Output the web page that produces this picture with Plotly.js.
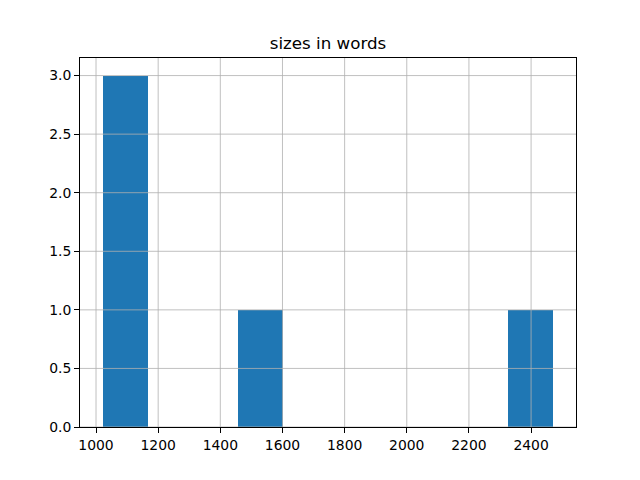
<!DOCTYPE html>
<html>
<head>
<meta charset="utf-8">
<script src="https://cdn.plot.ly/plotly-3.0.1.min.js"></script>
<style>html,body{margin:0;padding:0;background:#fff;}#chart{width:640px;height:480px;}</style>
</head>
<body>
<div id="chart"></div>
<script>
// Histogram of document sizes (words), 10 bins
const binEdges = [1021, 1166.1, 1311.2, 1456.3, 1601.4, 1746.5, 1891.6, 2036.7, 2181.8, 2326.9, 2472];
const counts = [3, 0, 0, 1, 0, 0, 0, 0, 0, 1];
const xTicks = [1000, 1200, 1400, 1600, 1800, 2000, 2200, 2400];
const yTicks = [0, 0.5, 1, 1.5, 2, 2.5, 3];
const yTickLabels = ["0.0", "0.5", "1.0", "1.5", "2.0", "2.5", "3.0"];
const chartTitle = "sizes in words";

const centers = counts.map((c, i) => (binEdges[i] + binEdges[i + 1]) / 2);
const widths = counts.map((c, i) => binEdges[i + 1] - binEdges[i]);

const lo = binEdges[0], hi = binEdges[binEdges.length - 1];
const pad = (hi - lo) * 0.05;
const ymax = Math.max(...counts) * 1.05;

const gridShapes = [];
xTicks.forEach(v => gridShapes.push({type: 'line', xref: 'x', yref: 'paper', x0: v, x1: v, y0: 0, y1: 1,
  line: {color: '#b0b0b0', width: 0.8}, layer: 'above'}));
yTicks.forEach(v => gridShapes.push({type: 'line', xref: 'paper', yref: 'y', x0: 0, x1: 1, y0: v, y1: v,
  line: {color: '#b0b0b0', width: 0.8}, layer: 'above'}));

const font = {family: 'DejaVu Sans', size: 13.9, color: '#000'};

Plotly.newPlot('chart', [{
  type: 'bar', x: centers, y: counts, width: widths,
  marker: {color: '#1f77b4', line: {width: 0}}, hoverinfo: 'skip'
}], {
  width: 640, height: 480,
  margin: {l: 80, r: 64, t: 58, b: 53, pad: 0},
  paper_bgcolor: '#fff', plot_bgcolor: '#fff',
  showlegend: false,
  title: {text: chartTitle, font: {family: 'DejaVu Sans', size: 16.7, color: '#000'},
    x: 0.5, xref: 'paper', xanchor: 'center', y: 1 - 43 / 480, yref: 'container', yanchor: 'middle'},
  xaxis: {range: [lo - pad, hi + pad], tickvals: xTicks, ticktext: xTicks.map(String),
    showgrid: false, zeroline: false, showline: true, mirror: true, linecolor: '#000', linewidth: 1,
    ticks: 'outside', ticklen: 5, tickwidth: 1, tickcolor: '#000', tickfont: font, layer: 'above traces'},
  yaxis: {range: [0, ymax], tickvals: yTicks, ticktext: yTickLabels,
    showgrid: false, zeroline: false, showline: true, mirror: true, linecolor: '#000', linewidth: 1,
    ticks: 'outside', ticklen: 5, tickwidth: 1, tickcolor: '#000', tickfont: font, layer: 'above traces'},
  shapes: gridShapes,
  bargap: 0
}, {displayModeBar: false, staticPlot: true});
</script>
</body>
</html>
